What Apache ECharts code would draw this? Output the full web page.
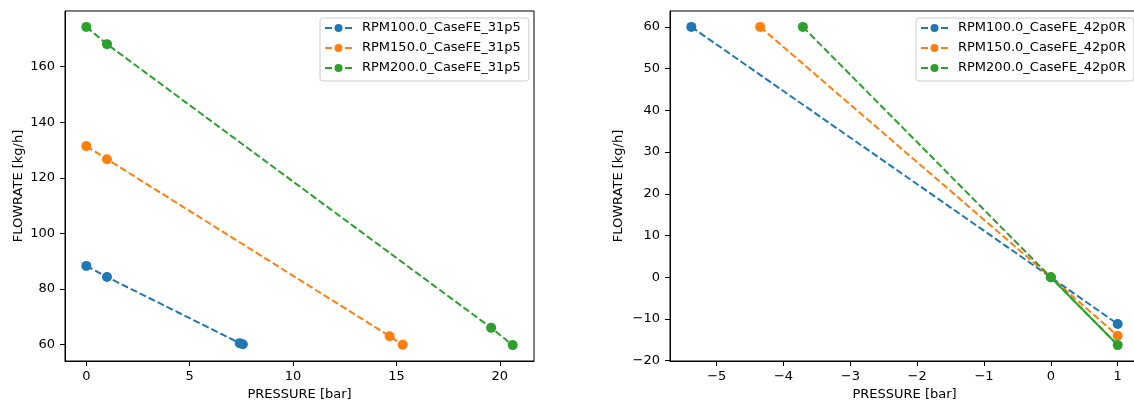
<!DOCTYPE html>
<html>
<head>
<meta charset="utf-8">
<script src="https://cdn.jsdelivr.net/npm/echarts@6/dist/echarts.min.js"></script>
<style>
html,body{margin:0;padding:0;background:#fff;}
#c{width:1134px;height:401px;}
</style>
</head>
<body>
<div id="c"></div>
<script>
// ---- data ----
const leftNames = ['RPM100.0_CaseFE_31p5', 'RPM150.0_CaseFE_31p5', 'RPM200.0_CaseFE_31p5'];
const left100X = [0, 1, 7.42, 7.57];
const left100Y = [88.3, 84.3, 60.5, 60.1];
const left150X = [0, 1, 14.67, 15.3];
const left150Y = [131.4, 126.7, 63.0, 59.9];
const left200X = [0, 1, 19.58, 20.62];
const left200Y = [174.3, 168.1, 66.0, 59.8];

const rightNames = ['RPM100.0_CaseFE_42p0R', 'RPM150.0_CaseFE_42p0R', 'RPM200.0_CaseFE_42p0R'];
const right100X = [-5.38, 0, 1];
const right100Y = [60, 0, -11.2];
const right150X = [-4.35, 0, 1];
const right150Y = [60, 0, -14.0];
const right200X = [-3.71, 0, 1];
const right200Y = [60, 0, -16.25];

const leftXTicks = [0, 5, 10, 15, 20];
const leftYTicks = [60, 80, 100, 120, 140, 160];
const rightXTicks = [-5, -4, -3, -2, -1, 0, 1];
const rightYTicks = [-20, -10, 0, 10, 20, 30, 40, 50, 60];

const xName = 'PRESSURE [bar]';
const yName = 'FLOWRATE [kg/h]';
const colors = ['#1f77b4', '#ff7f0e', '#2ca02c'];

// ---- helpers ----
const FONT = 'DejaVu Sans';
const TXT = '#000';
const pts = (xs, ys) => xs.map((x, i) => [x, ys[i]]);
const fmt = v => String(v).replace('-', '\u2212');
function pad(arr) {
  const mn = Math.min(...arr), mx = Math.max(...arr), m = (mx - mn) * 0.05;
  return [mn - m, mx + m];
}
function xAxis(idx, vals, ticks) {
  const [mn, mx] = pad(vals);
  return {
    type: 'value', gridIndex: idx, min: mn, max: mx,
    name: xName, nameLocation: 'middle', nameGap: 27,
    nameTextStyle: { fontFamily: FONT, fontSize: 13, color: TXT },
    axisLine: { show: true, onZero: false, lineStyle: { color: '#000', width: 1 } },
    axisTick: { show: true, length: 5, inside: false, customValues: ticks, lineStyle: { color: '#000', width: 1 } },
    axisLabel: { customValues: ticks, margin: 9, fontFamily: FONT, fontSize: 13, color: TXT, formatter: fmt, hideOverlap: false },
    splitLine: { show: false }
  };
}
function yAxis(idx, vals, ticks, gap) {
  const [mn, mx] = pad(vals);
  return {
    type: 'value', gridIndex: idx, min: mn, max: mx,
    name: yName, nameLocation: 'middle', nameGap: gap,
    nameTextStyle: { fontFamily: FONT, fontSize: 13, color: TXT },
    axisLine: { show: true, onZero: false, lineStyle: { color: '#000', width: 1 } },
    axisTick: { show: true, length: 5, inside: false, customValues: ticks, lineStyle: { color: '#000', width: 1 } },
    axisLabel: { customValues: ticks, margin: 10, fontFamily: FONT, fontSize: 13, color: TXT, formatter: fmt, hideOverlap: false },
    splitLine: { show: false }
  };
}
function line(name, data, ci, idx, type) {
  return {
    type: 'line', name: name, xAxisIndex: idx, yAxisIndex: idx,
    data: data, symbol: 'circle', symbolSize: 10, showSymbol: true,
    color: colors[ci],
    itemStyle: { color: colors[ci], borderColor: colors[ci], borderWidth: 0 },
    lineStyle: { color: colors[ci], width: 2, type: type || [7, 3] },
    emphasis: { disabled: true }, animation: false, clip: false, z: 2 + ci
  };
}
function legend(left, names) {
  return {
    data: names, orient: 'vertical', left: left, top: 18,
    padding: [3, 8, 6, 4], itemGap: 6, itemWidth: 27, itemHeight: 10,
    backgroundColor: 'rgba(255,255,255,0.8)', borderColor: '#ccc', borderWidth: 1, borderRadius: 3,
    textStyle: { fontFamily: FONT, fontSize: 13, color: TXT, lineHeight: 14, padding: [0, 0, 0, 5] },
    selectedMode: false
  };
}

const leftAllX = [...left100X, ...left150X, ...left200X];
const leftAllY = [...left100Y, ...left150Y, ...left200Y];
const rightAllX = [...right100X, ...right150X, ...right200X];
const rightAllY = [...right100Y, ...right150Y, ...right200Y];

const option = {
  animation: false,
  textStyle: { fontFamily: FONT },
  grid: [
    { left: 65, top: 11, width: 469, height: 350, outerBoundsMode: 'none', containLabel: false, show: true, borderColor: '#000', borderWidth: 1, backgroundColor: 'transparent' },
    { left: 670, top: 11, width: 469, height: 350, outerBoundsMode: 'none', containLabel: false, show: true, borderColor: '#000', borderWidth: 1, backgroundColor: 'transparent' }
  ],
  xAxis: [xAxis(0, leftAllX, leftXTicks), xAxis(1, rightAllX, rightXTicks)],
  yAxis: [yAxis(0, leftAllY, leftYTicks, 40), yAxis(1, rightAllY, rightYTicks, 45)],
  legend: [legend(320, leftNames), legend(916, rightNames)],
  series: [
    line(leftNames[0], pts(left100X, left100Y), 0, 0),
    line(leftNames[1], pts(left150X, left150Y), 1, 0),
    line(leftNames[2], pts(left200X, left200Y), 2, 0),
    line(rightNames[0], pts(right100X, right100Y), 0, 1),
    line(rightNames[1], pts(right150X, right150Y), 1, 1),
    line(rightNames[2], pts(right200X, right200Y), 2, 1),
    Object.assign(line('green solid segment', pts(right200X.slice(1), right200Y.slice(1)), 2, 1, 'solid'), { symbol: 'none', showSymbol: false })
  ]
};

const chart = echarts.init(document.getElementById('c'), null, { renderer: 'canvas' });
chart.setOption(option);
</script>
</body>
</html>
